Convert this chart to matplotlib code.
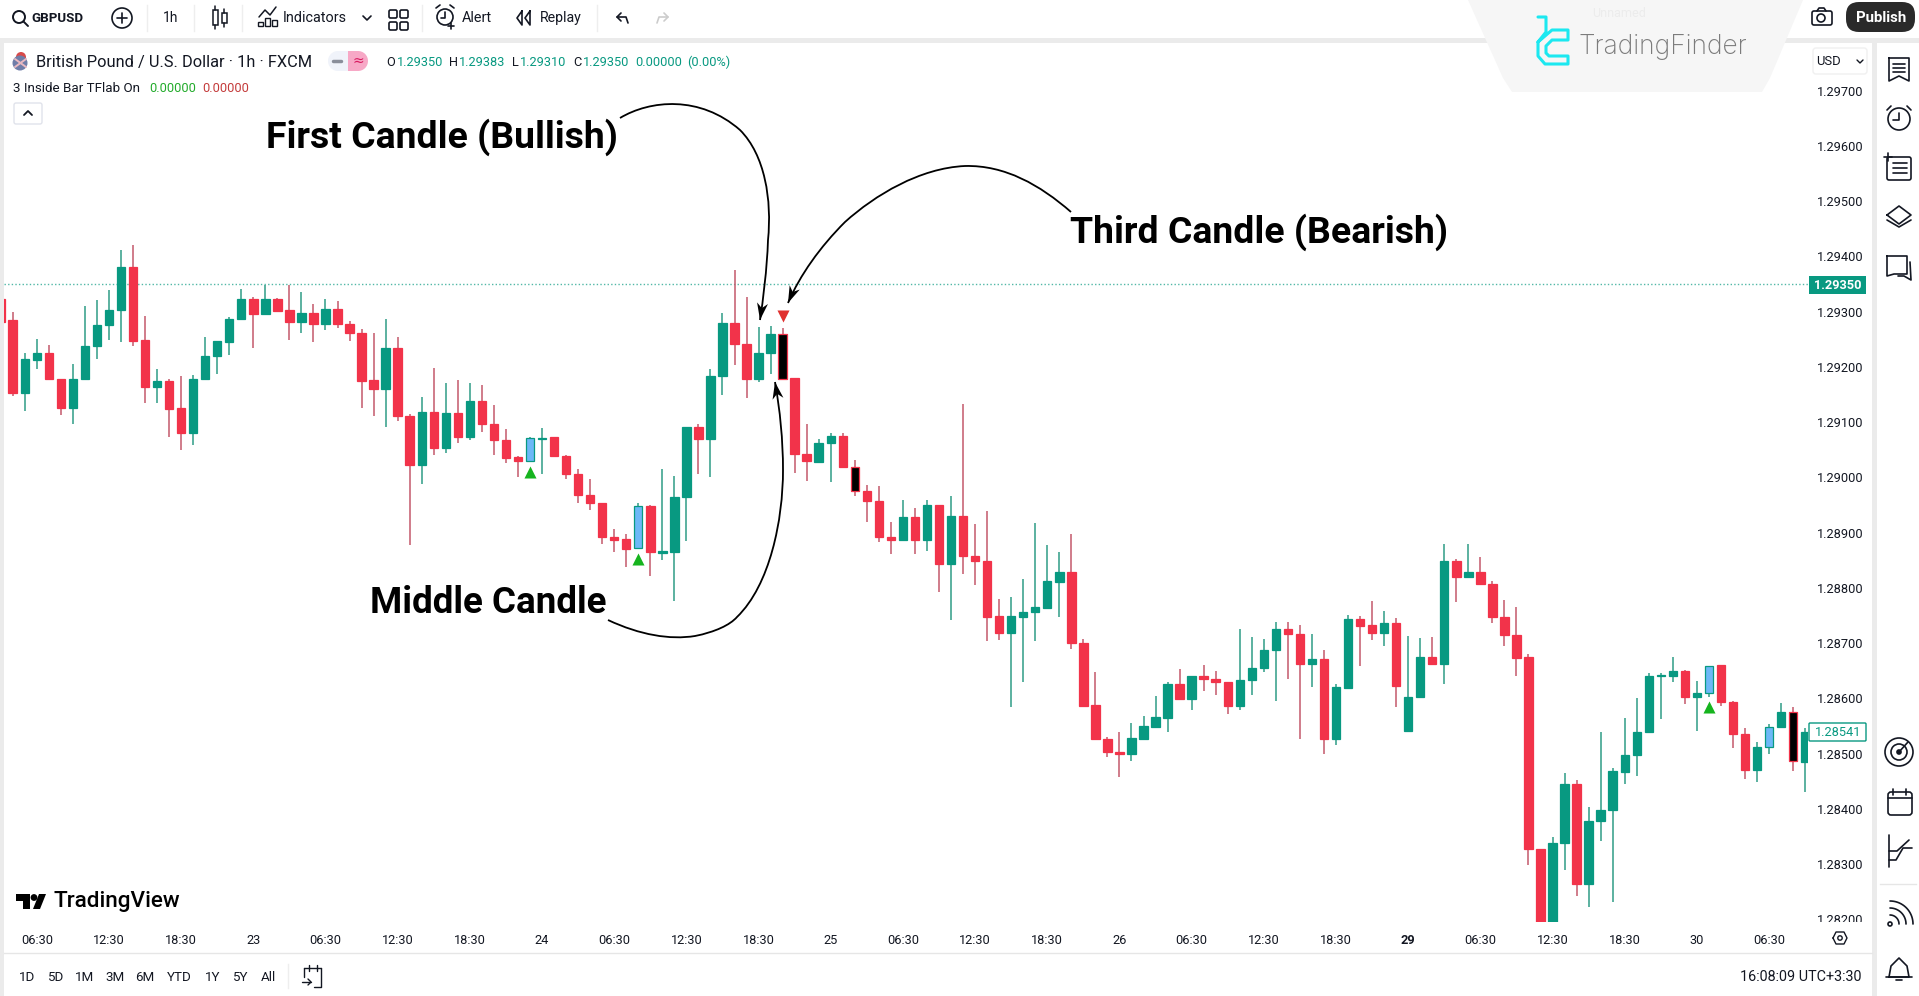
import numpy as np
import matplotlib
matplotlib.use("Agg")
import matplotlib.pyplot as plt
from matplotlib.patches import Rectangle, Circle, Polygon, PathPatch, FancyBboxPatch
from matplotlib.path import Path
from matplotlib.transforms import Bbox

W, H = 1919, 996
UI_FONT = ['Roboto', 'DejaVu Sans']
BOLD_FONT = ['Roboto', 'DejaVu Sans']

# prices in 1e-5 units
opens = [129323,129284,129153,129213,129226,129178,129126,129178,129237,129275,
         129303,129381,129248,129164,129174,129125,129080,129178,129219,129245,
         129286,129323,129296,129323,129303,129281,129297,129278,129305,129278,
         129261,129176,129160,129234,129112,129023,129118,129054,129117,129074,
         129138,129096,129068,129037,129030,129070,129073,129039,129007,128969,
         128953,128893,128888,128872,128948,128864,128865,128965,129091,129070,
         129184,129280,129242,129179,129225,129259,129180,129042,129028,129062,
         129075,129018,128975,128957,128893,128887,128928,128887,128950,128843,
         128930,128858,128848,128749,128719,128748,128756,128764,128811,128828,
         128701,128588,128527,128504,128500,128527,128549,128565,128626,128599,
         128641,128635,128629,128587,128633,128655,128687,128725,128717,128663,
         128671,128527,128619,128743,128733,128718,128737,128542,128603,128675,
         128662,128848,128819,128828,128808,128748,128715,128675,128328,128170,
         128339,128446,128265,128378,128398,128467,128497,128539,128640,128641,
         128649,128603,128609,128660,128593,128535,128470,128512,128549,128575,
         128485]
highs = [129323,129299,129226,129250,129240,129178,129206,129310,129321,129339,
         129411,129421,129292,129196,129178,129184,129186,129255,129246,129291,
         129341,129327,129348,129325,129348,129335,129313,129323,129319,129283,
         129268,129261,129286,129255,129114,129146,129198,129170,129176,129170,
         129167,129131,129087,129039,129073,129089,129074,129041,129015,128997,
         128953,128906,128898,128953,128950,129015,129003,129091,129096,129197,
         129297,129375,129327,129272,129274,129271,129180,129097,129069,129080,
         129081,129031,128987,128985,128920,128959,128944,128959,128951,128966,
         129133,128916,128940,128780,128783,128816,128918,128877,128865,128898,
         128707,128648,128530,128539,128556,128568,128605,128630,128654,128641,
         128660,128649,128629,128725,128711,128707,128739,128739,128733,128717,
         128687,128626,128751,128749,128777,128759,128745,128713,128709,128711,
         128880,128853,128880,128856,128812,128779,128765,128681,128328,128349,
         128466,128452,128403,128540,128475,128564,128600,128646,128646,128675,
         128651,128631,128659,128661,128595,128546,128522,128554,128592,128584,
         128546]
lows = [129282,129148,129121,129197,129178,129113,129097,129178,129215,129249,
        129245,129237,129135,129135,129074,129050,129058,129178,129187,129221,
        129284,129235,129296,129302,129249,129262,129245,129266,129271,129246,
        129125,129112,129092,129103,128877,128988,129040,129044,129063,129067,
        129082,129040,129026,129000,129028,129007,129038,128998,128954,128941,
        128879,128865,128837,128872,128821,128851,128776,128885,129006,129000,
        129149,129203,129143,129173,129187,129179,129008,128994,129027,128991,
        129018,128966,128919,128884,128861,128887,128861,128867,128793,128742,
        128825,128806,128704,128706,128585,128630,128704,128763,128748,128689,
        128587,128524,128494,128457,128487,128527,128549,128539,128599,128579,
        128614,128606,128571,128580,128606,128647,128595,128636,128526,128620,
        128500,128515,128617,128658,128706,128695,128585,128542,128603,128662,
        128626,128775,128819,128808,128737,128695,128640,128298,128150,128150,
        128289,128243,128223,128342,128231,128446,128459,128539,128563,128629,
        128590,128541,128603,128587,128511,128455,128449,128499,128549,128469,
        128431]
closes = [129282,129153,129214,129226,129178,129126,129178,129238,129275,129303,
          129381,129247,129164,129174,129124,129080,129178,129220,129246,129287,
          129323,129296,129323,129302,129281,129297,129278,129305,129277,129261,
          129175,129160,129234,129112,129023,129118,129054,129117,129074,129138,
          129096,129068,129036,129030,129071,129072,129038,129006,128968,128953,
          128893,128887,128871,128948,128865,128866,128965,129091,129070,129184,
          129280,129241,129179,129226,129259,129179,129042,129029,129063,129075,
          129018,128975,128957,128893,128887,128928,128887,128950,128843,128930,
          128857,128848,128748,128719,128749,128757,128765,128812,128828,128701,
          128587,128526,128503,128500,128528,128550,128566,128626,128599,128641,
          128635,128629,128587,128633,128655,128687,128725,128716,128663,128671,
          128527,128620,128743,128732,128718,128737,128623,128603,128675,128662,
          128848,128819,128828,128808,128748,128714,128674,128327,128170,128339,
          128446,128265,128379,128399,128469,128498,128540,128641,128642,128649,
          128602,128609,128659,128593,128535,128470,128512,128549,128575,128486,
          128540]

inside_up = [44, 53, 142, 147]      # blue bodies
inside_down = [65, 71, 149]         # black bodies
buy_bars = [44, 53, 142]
buy_marks = [129009, 128852, 128584]
sell_bars = [65]
sell_marks = [129293]

price_ticks = [129700, 129600, 129500, 129400, 129300, 129200, 129100, 129000,
               128900, 128800, 128700, 128600, 128500, 128400, 128300, 128200]
time_labels = ['06:30', '12:30', '18:30', '23', '06:30', '12:30', '18:30', '24',
               '06:30', '12:30', '18:30', '25', '06:30', '12:30', '18:30', '26',
               '06:30', '12:30', '18:30', '29', '06:30', '12:30', '18:30', '30', '06:30']
range_labels = ['1D', '5D', '1M', '3M', '6M', 'YTD', '1Y', '5Y', 'All']
range_x = [27, 55, 85, 115, 145, 179, 213, 240, 268]
last_close = 129350
live_price = 128541

UP = '#089981'
DOWN = '#f2334a'
TEXT = '#131722'

o = np.array(opens) / 1e5
h = np.array(highs) / 1e5
l = np.array(lows) / 1e5
c = np.array(closes) / 1e5
bars = np.arange(len(o))

fig = plt.figure(figsize=(W / 100, H / 100), dpi=100, facecolor='white')
plt.rcParams['font.family'] = UI_FONT

# chart pane
ax = fig.add_axes([4 / W, (H - 921.7) / H, 1804 / W, 879.7 / H])
ax.set_xlim((4 - 0.67) / 12.03, (1808 - 0.67) / 12.03)
ax.set_ylim(1.28196, 1.29788)
for s in ax.spines.values():
    s.set_visible(False)

body_col = np.where(c >= o, UP, DOWN).tolist()
wick_col = np.where(c >= o, '#2f9c86', '#c4596b').tolist()
edge_col = list(body_col)
for i in inside_up:
    body_col[i] = '#6db8f7'
for i in inside_down:
    body_col[i] = 'black'
ax.axhline(last_close / 1e5, color=UP, lw=1, ls=(0, (1, 1.6)), alpha=0.7, zorder=1)
ax.vlines(bars, l, h, colors=wick_col, lw=1.1, zorder=2)
ax.bar(bars, np.abs(c - o), 0.7, np.minimum(o, c), color=body_col, edgecolor=edge_col, lw=0.9, zorder=3)
ax.scatter(buy_bars, np.array(buy_marks) / 1e5, marker='^', s=75, color='#16b41e', lw=0, zorder=4)
ax.scatter(sell_bars, np.array(sell_marks) / 1e5, marker='v', s=75, color='#e0302e', lw=0, zorder=4)

ax.yaxis.tick_right()
ax.set_yticks(np.array(price_ticks) / 1e5)
ax.set_yticklabels(['%.5f' % (p / 1e5) for p in price_ticks])
ax.tick_params(axis='y', length=0, pad=6.5, labelsize=9.2, labelcolor=TEXT)
ax.set_xticks(3 + 6 * np.arange(len(time_labels)))
ax.set_xticklabels(time_labels)
ax.tick_params(axis='x', length=0, pad=8.5, labelsize=9.2, labelcolor=TEXT)
ax.get_xticklabels()[19].set_fontweight('bold')
pane = Bbox([[0, H - 921.7], [W, H]])
for t in ax.get_yticklabels():
    t.set_clip_on(True)
    t.set_clip_box(pane)

# everything around the chart, in pixel coordinates
ui = fig.add_axes([0, 0, 1, 1], facecolor='none')
ui.set_xlim(0, W)
ui.set_ylim(H, 0)
ui.axis('off')


def txt(x, y, s, size=9.2, color=TEXT, ha='left', weight='normal', family=None):
    ui.text(x, y, s, fontsize=size, color=color, ha=ha, va='center', fontweight=weight,
            family=family or UI_FONT, zorder=6)


def seg(pts, lw=1.2, color=TEXT):
    pts = np.array(pts)
    ui.plot(pts[:, 0], pts[:, 1], color=color, lw=lw, solid_capstyle='round', zorder=5)


def box(x0, y0, x1, y1, fc='none', ec=TEXT, lw=1.2, r=2, z=3):
    ui.add_patch(FancyBboxPatch((x0 + r, y0 + r), x1 - x0 - 2 * r, y1 - y0 - 2 * r,
                                boxstyle='round,pad=%g,rounding_size=%g' % (r, r), fc=fc, ec=ec, lw=lw, zorder=z))


def ring(x, y, r, lw=1.2, fc='none', ec=TEXT):
    ui.add_patch(Circle((x, y), r, fc=fc, ec=ec, lw=lw, zorder=4))


def curve(knots):
    # knots: start point, then control, control, end for every piece
    codes = [Path.MOVETO] + [Path.CURVE4] * (len(knots) - 1)
    ui.add_patch(PathPatch(Path(knots, codes), fc='none', ec='black', lw=1.3, zorder=6))
    tip = np.array(knots[-1], float)
    back = np.array(knots[-2], float)
    d = (tip - back) / np.hypot(*(tip - back))
    n = np.array([-d[1], d[0]])
    ui.add_patch(Polygon([tip, tip - 17 * d + 5.5 * n, tip - 12 * d, tip - 17 * d - 5.5 * n],
                         fc='black', ec='none', zorder=6))


# grey frame around the panes
GREY = '#ebebeb'
for r in [(0, 38, W, 5), (0, 38, 4, H - 38), (1872, 38, 5, H - 38)]:
    ui.add_patch(Rectangle(r[:2], r[2], r[3], fc=GREY, ec='none', zorder=1))
ui.plot([4, 1872], [953, 953], color='#e6e6e6', lw=1)
ui.plot([1880, 1916], [884, 884], color='#e6e6e6', lw=1)
for x in [147, 194, 242, 422, 597]:
    ui.plot([x, x], [5, 31], color='#eeeeee', lw=1)
ui.plot([288, 288], [964, 988], color='#eeeeee', lw=1)

# top toolbar
ring(19, 17, 6, 1.4)
seg([(23.5, 21.5), (28, 26)], 1.4)
txt(31, 18, 'GBPUSD', 9.6, weight='bold')
ring(122, 18, 10)
seg([(117, 18), (127, 18)])
seg([(122, 13), (122, 23)])
txt(171, 18, '1h', 10, ha='center')
for x, y0, y1, t0, t1 in [(215, 10, 25, 6, 29), (224, 13, 23, 9, 27)]:
    ui.add_patch(Rectangle((x - 2.5, y0), 5, y1 - y0, fc='none', ec=TEXT, lw=1.1))
    seg([(x, t0), (x, y0)], 1.1)
    seg([(x, y1), (x, t1)], 1.1)
seg([(259, 17), (265, 10), (270, 15), (276, 7)], 1.1)
for x, y in [(258, 22), (265, 18), (272, 20)]:
    ui.add_patch(Rectangle((x, y), 5, 26 - y, fc='none', ec=TEXT, lw=1))
txt(283, 18, 'Indicators', 10.4)
seg([(363, 16), (367, 20), (371, 16)])
for x in [389, 400]:
    for y in [10, 22]:
        box(x, y, x + 8, y + 8, r=1.5)
ring(445, 17, 8)
seg([(445, 12), (445, 18), (441, 18)])
seg([(436, 8), (440, 5)])
seg([(450, 5), (454, 8)])
seg([(451, 23), (451, 29)])
seg([(448, 26), (454, 26)])
txt(462, 18, 'Alert', 10.4)
seg([(522, 11), (517, 18), (522, 25), (522, 11)])
seg([(530, 11), (525, 18), (530, 25), (530, 11)])
txt(540, 18, 'Replay', 10.2)
seg([(621, 13), (617, 17), (621, 21)])
seg([(617, 17), (626, 17), (628, 23)])
seg([(664, 13), (668, 17), (664, 21)], color='#cccccc')
seg([(668, 17), (659, 17), (657, 23)], color='#cccccc')

# watermark
ui.add_patch(PathPatch(Path([(1468, 0), (1803, 0), (1770, 78), (1762, 92), (1750, 92), (1525, 92), (1512, 92), (1503, 78), (1468, 0)]),
                       fc='#f6f6f6', ec='none', zorder=2))
txt(1619, 13, 'Unnamed', 9, color='#ececec', ha='center')
CYAN = '#1ce8f0'
seg([(1538, 17), (1546, 17), (1546, 32), (1538, 42), (1538, 56), (1545, 64), (1568, 64), (1568, 56), (1549, 56), (1546, 53), (1546, 46), (1552, 40), (1568, 40), (1568, 30), (1552, 30), (1538, 42)], 2.2, CYAN)
txt(1579, 46.5, 'TradingFinder', 19, color='#7c7c7c', family=['Inter', 'Roboto'], weight='light')

# camera and publish
box(1812, 11, 1832, 25, r=2)
ring(1821, 18, 4)
seg([(1817, 11), (1819, 8), (1824, 8), (1826, 11)])
box(1846, 2, 1915, 32, fc='#2a2a2a', ec='none', r=13)
txt(1881, 18, 'Publish', 10.8, color='white', ha='center', weight='bold')

# legend rows
ring(21, 57, 5, 0, fc='#d84a4a', ec='none')
ring(20, 63, 7.5, 0, fc='#6f7da8', ec='none')
seg([(15, 59), (26, 67)], 1.4, '#e9b9c2')
seg([(15, 67), (26, 59)], 1.4, '#e9b9c2')
txt(36, 62, 'British Pound / U.S. Dollar · 1h · FXCM', 11.8)
ui.add_patch(Rectangle((338, 51), 10, 20, fc='#f0f3fa', ec='none'))
ui.add_patch(Circle((338, 61), 10, fc='#f0f3fa', ec='none'))
ui.add_patch(Rectangle((348, 51), 10, 20, fc='#f7a8c6', ec='none'))
ui.add_patch(Circle((358, 61), 10, fc='#f7a8c6', ec='none'))
seg([(333, 61), (341, 61)], 2.5, '#8a8e9a')
txt(358, 61, '≈', 10, color='#d81b60', ha='center', family=['DejaVu Sans'])
for x, s in [(386, 'O'), (449, 'H'), (512, 'L'), (573, 'C')]:
    txt(x, 62, s, 9.2)
for x, s in [(397, '1.29350'), (459, '1.29383'), (520, '1.29310'), (583, '1.29350'), (635, '0.00000'), (687, '(0.00%)')]:
    txt(x, 62, s, 9.2, color=UP)
txt(13, 88, '3 Inside Bar TFlab On', 9.6)
txt(149, 88, '0.00000', 9.2, color='#22ab2b')
txt(202, 88, '0.00000', 9.2, color='#c43b3b')
box(14, 103, 42, 124, fc='white', ec='#e0e3eb', lw=1)
seg([(24, 115), (28, 111), (32, 115)], 1.3)

# price scale extras
box(1813, 48, 1867, 74, fc='white', ec='#f0f0f0', lw=1, r=3)
txt(1816, 61, 'USD', 9.4)
seg([(1857, 60), (1860, 63), (1863, 60)], 1)
ui.add_patch(Rectangle((1809, 276), 57, 18, fc=UP, ec='none', zorder=4))
txt(1838, 285, '%.5f' % (last_close / 1e5), 9.2, color='white', ha='center', weight='bold')
box(1809, 723, 1866, 741, fc='white', ec=UP, lw=1, r=1, z=4)
txt(1838, 732, '%.5f' % (live_price / 1e5), 9.2, color=UP, ha='center')

# right toolbar icons
seg([(1889, 58), (1909, 58), (1909, 81), (1899, 76), (1889, 81), (1889, 58)])
for y in [64, 68, 72]:
    seg([(1893, y), (1905, y)])
ring(1899, 119, 11)
seg([(1899, 113), (1899, 120), (1893, 120)])
seg([(1887, 110), (1891, 106)])
seg([(1907, 106), (1911, 110)])
box(1887, 157, 1911, 180, r=2)
seg([(1884, 157), (1892, 157)])
seg([(1888, 153), (1888, 161)])
for y in [163, 168, 173]:
    seg([(1893, y), (1907, y)])
seg([(1887, 215), (1899, 206), (1911, 215), (1899, 224), (1887, 215)])
seg([(1887, 220), (1899, 227), (1911, 220)])
seg([(1887, 256), (1907, 256), (1907, 274), (1894, 274), (1887, 276), (1887, 256)])
seg([(1910, 262), (1911, 280), (1904, 276), (1898, 276)])
ring(1899, 752, 14)
ring(1899, 752, 8)
ring(1899, 752, 2, fc=TEXT)
seg([(1899, 752), (1908, 742)])
box(1888, 792, 1912, 815, r=3)
seg([(1888, 798), (1912, 798)])
seg([(1893, 789), (1893, 795)])
seg([(1906, 789), (1906, 795)])
seg([(1889, 835), (1889, 867)])
seg([(1889, 851), (1897, 851), (1909, 840)])
seg([(1889, 860), (1896, 860), (1903, 848), (1912, 848)])
ring(1890, 924, 2)
for r_ in [9, 16, 23]:
    t_ = np.radians(np.linspace(-90, 0, 20))
    seg(np.c_[1890 + r_ * np.cos(t_), 924 + r_ * np.sin(t_)])
seg([(1889, 977), (1891, 966), (1899, 958), (1907, 966), (1909, 977), (1889, 977)])
seg([(1886, 977), (1912, 977)])
seg([(1896, 980), (1902, 980)])

# time scale corner and bottom bar
seg([(1833, 938), (1836, 932), (1844, 932), (1847, 938), (1844, 944), (1836, 944), (1833, 938)], 1)
ring(1840, 938, 2.2, 1)
for x, s in zip(range_x, range_labels):
    txt(x, 977, s, 9.6, ha='center')
seg([(304, 968), (321, 968)], 1)
seg([(321, 968), (321, 987), (314, 987)], 1)
seg([(304, 968), (304, 977)], 1)
seg([(309, 965), (309, 971)], 1)
seg([(317, 965), (317, 971)], 1)
seg([(302, 982), (311, 982)], 1)
seg([(308, 979), (311, 982), (308, 985)], 1)
txt(1862, 977, '16:08:09 UTC+3:30', 10.4, ha='right')

# TradingView logo
ui.add_patch(Polygon([(16, 894), (30, 894), (30, 909), (23, 909), (23, 901), (16, 901)], fc='black', ec='none'))
ui.add_patch(Circle((34, 897.5), 3.4, fc='black', ec='none'))
ui.add_patch(Polygon([(39, 894), (46, 894), (40, 909), (33, 909)], fc='black', ec='none'))
txt(54, 901, 'TradingView', 16.2, color='black', weight='medium', family=BOLD_FONT)

# annotations
txt(266, 137.5, 'First Candle (Bullish)', 26.9, color='black', weight='bold', family=BOLD_FONT)
txt(1070, 232.5, 'Third Candle (Bearish)', 26.9, color='black', weight='bold', family=BOLD_FONT)
txt(370, 603, 'Middle Candle', 26.5, color='black', weight='bold', family=BOLD_FONT)
curve([(620, 118), (650, 100), (700, 95), (740, 130), (765, 155), (772, 200), (768, 240), (767, 270), (763, 300), (760, 320)])
curve([(1071, 212), (1040, 185), (1005, 165), (965, 166), (920, 168), (875, 195), (845, 222), (820, 247), (800, 275), (788, 303)])
curve([(608, 620), (640, 635), (670, 640), (695, 636), (715, 632), (730, 625), (737, 617), (770, 585), (783, 520), (783, 470), (783, 440), (780, 410), (775, 382)])

fig.savefig('out.png', dpi=100)
